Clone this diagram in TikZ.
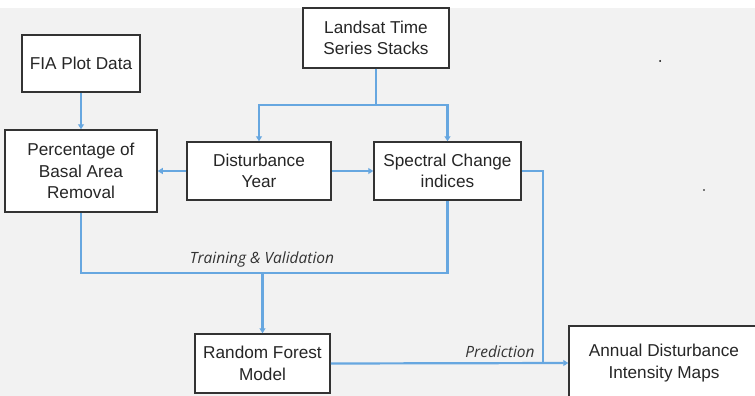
\documentclass[tikz,border=0pt]{standalone}
\usepackage{fontspec}
\setmainfont{Liberation Sans}
\newfontfamily\labelfont{Open Sans}
\usetikzlibrary{arrows.meta}

\definecolor{bggray}{HTML}{F2F2F2}
\definecolor{flowblue}{HTML}{67A7E0}
\definecolor{boxline}{HTML}{333333}

\begin{document}
\begin{tikzpicture}[x=1pt,y=-1pt,
    box/.style={draw=boxline, line width=1.5pt, fill=white, align=center, inner sep=0pt,
      font=\fontsize{17.2}{21.5}\selectfont, text=black!85},
    flow/.style={draw=flowblue, line width=2.2pt},
    arr/.style={flow, -{Triangle[length=5pt,width=6pt]}},
    lbl/.style={font=\labelfont\itshape\fontsize{15.5}{18}\selectfont, text=black!80}]
    \useasboundingbox (0,0) rectangle (755,396);
    \fill[bggray] (0,8) rectangle (755,396); % Hintergrund
    % Boxen oben:
    \node[box, minimum width=146, minimum height=60] (landsat) at (376,38) {Landsat Time\\Series Stacks};
    \node[box, minimum width=118, minimum height=57] (fia) at (81,63.5) {FIA Plot Data};
    % mittlere Reihe:
    \node[box, minimum width=152, minimum height=82] (pct) at (81,171) {Percentage of\\Basal Area\\Removal};
    \node[box, minimum width=144, minimum height=58] (year) at (259,171) {Disturbance\\Year};
    \node[box, minimum width=147, minimum height=58] (spectral) at (447.5,171) {Spectral Change\\indices};
    % unten:
    \node[box, minimum width=135, minimum height=59] (rf) at (262.5,363.5) {Random Forest\\Model};
    \node[box, minimum width=190, minimum height=74] (annual) at (664,363) {Annual Disturbance\\Intensity Maps};
    % Verbindungen:
    \coordinate (split) at (376,105);
    \draw[flow] (landsat.south) -- (split);
    \draw[arr] (split) -| (year.north);
    \draw[arr] (split) -| (spectral.north);
    \draw[arr] (fia.south) -- (pct.north);
    \draw[arr] (year.west) -- (pct.east);
    \draw[arr] (year.east) -- (spectral.west);
    \coordinate (tv) at (262.5,273);
    \draw[flow] (pct.south) |- (tv) -| (spectral.south); % Training
    \draw[arr] (tv) -- (rf.north);
    \node[lbl] (tvlabel) at (262,259) {Training \& Validation};
    \coordinate (knick) at (543,363);
    \draw[flow] (spectral.east) -| (knick);
    \draw[arr] (rf.east) -- (annual.west); % Prediction
    \node[lbl] (predlabel) at (500,352) {Prediction};
    % Punkte:
    \fill (660,61) circle (1);
    \fill (704,190) circle (0.8);
\end{tikzpicture}
\end{document}
